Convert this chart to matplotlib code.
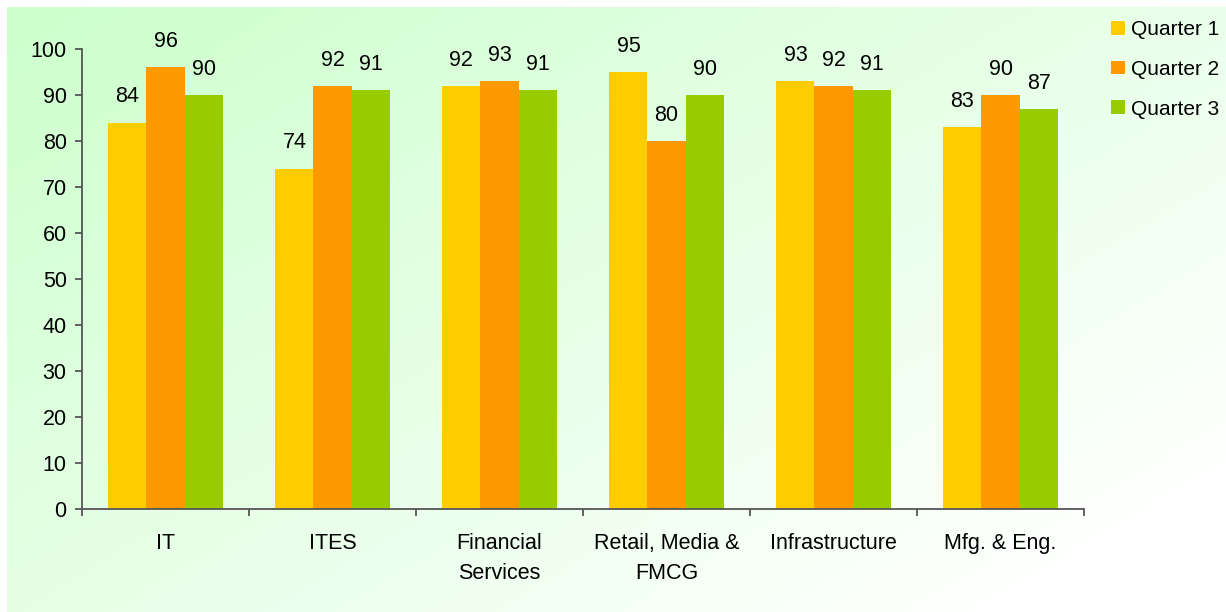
import numpy as np
import matplotlib
matplotlib.use("Agg")
from matplotlib import pyplot as plt
from matplotlib.colors import LinearSegmentedColormap

plt.rcParams['font.family'] = ['Liberation Sans', 'DejaVu Sans']

categories = ["IT", "ITES", "Financial\nServices", "Retail, Media &\nFMCG", "Infrastructure", "Mfg. & Eng."]
series = ["Quarter 1", "Quarter 2", "Quarter 3"]
q1 = [84, 74, 92, 95, 93, 83]
q2 = [96, 92, 93, 80, 92, 90]
q3 = [90, 91, 91, 90, 91, 87]
colors = ["#FFCC00", "#FF9900", "#99CC00"]

W, H = 1226, 612
fs = 15.5
fig = plt.figure(figsize=(W / 100, H / 100), dpi=100)
fig.patch.set_facecolor("white")

# background gradient, green top-left to white bottom-right
bg = fig.add_axes([7 / W, 0, 1 - 7 / W, 1 - 7 / H])
bg.set_axis_off()
yy, xx = np.mgrid[0:1:200j, 0:1:400j]
grad = np.clip(0.6 * xx + 0.5 * yy, 0, 1)
cmap = LinearSegmentedColormap.from_list("g", ["#CCFFCC", "#FFFFFF"])
bg.imshow(grad, cmap=cmap, aspect="auto", extent=[0, 1, 1, 0], vmin=0, vmax=1)
bg.set_zorder(0)

ax = fig.add_axes([82 / W, 1 - 509 / H, (1084 - 82) / W, (509 - 49) / H])
ax.set_zorder(1)
ax.patch.set_alpha(0)

x = np.arange(len(categories))
bw = 0.228
data = [q1, q2, q3]
for i in range(3):
    bars = ax.bar(x + (i - 1) * bw, data[i], bw, color=colors[i], label=series[i])
    for b, v in zip(bars, data[i]):
        ax.annotate(str(v), (b.get_x() + b.get_width() / 2, v), xytext=(0, 11),
                    textcoords="offset points", ha="center", va="bottom", fontsize=fs)

ax.set_xlim(-0.5, len(categories) - 0.5)
ax.set_ylim(0, 100)
ax.set_yticks(range(0, 101, 10))
ax.set_xticks(x)
ax.set_xticklabels(categories, fontsize=fs, linespacing=1.6)
ax.set_xticks(np.arange(-0.5, len(categories)), minor=True)
ax.tick_params(axis="x", which="major", length=0, pad=17)
ax.tick_params(axis="x", which="minor", length=5, width=1.3, color="#555555", direction="out")
ax.tick_params(axis="y", labelsize=fs, length=5, width=1.3, color="#555555", direction="out", pad=6)
for s in ["top", "right"]:
    ax.spines[s].set_visible(False)
for s in ["left", "bottom"]:
    ax.spines[s].set_color("#555555")
    ax.spines[s].set_linewidth(1.3)

fig.legend(loc="upper left", bbox_to_anchor=(1111 / W, 1 - 20 / H), frameon=False, fontsize=15,
           borderpad=0, borderaxespad=0, handlelength=0.65, handleheight=0.65, handletextpad=0.3,
           labelspacing=1.0)

fig.savefig("out.png", dpi=100)
